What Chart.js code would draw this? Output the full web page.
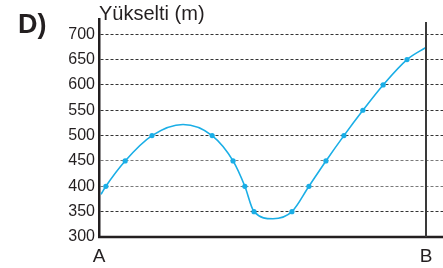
<!DOCTYPE html>
<html>
<head>
<meta charset="utf-8">
<script src="https://cdn.jsdelivr.net/npm/chart.js@4"></script>
<style>
  html, body { margin: 0; padding: 0; background: #fff; }
  #wrap { width: 443px; height: 268px; }
</style>
</head>
<body>
<div id="wrap"><canvas id="profile" width="443" height="268"></canvas></div>
<script>
// Profil d'altitude entre A et B
const distance = [0.6, 2.1, 8.0, 16.2, 25.7, 34.6, 41.0, 44.6, 47.4, 53.2, 59.0, 64.2, 69.4, 74.9, 80.7, 86.9, 94.2, 100];
const elevation = [384, 400, 450, 500, 522, 500, 450, 400, 350, 336, 350, 400, 450, 500, 550, 600, 650, 674];
const yTicks = [300, 350, 400, 450, 500, 550, 600, 650, 700];
const xTicks = [0, 100];
const xLabels = ["A", "B"];

const ink = "#231f20";
const curveColor = "#1aaee6";
const font = "'Liberation Sans', Arial, sans-serif";

// texte "D)", titre de l'axe, ligne B et axe x plein
const decorPlugin = {
  id: "decor",
  afterDraw(chart) {
    const ctx = chart.ctx;
    const area = chart.chartArea;
    const x = chart.scales.x;
    ctx.save();
    // axe horizontal plein
    ctx.strokeStyle = ink;
    ctx.lineWidth = 2.5;
    ctx.beginPath();
    ctx.moveTo(area.left - 1, area.bottom);
    ctx.lineTo(area.right, area.bottom);
    ctx.stroke();
    // ligne verticale en B
    const bx = x.getPixelForValue(100);
    ctx.strokeStyle = "#3a3a3a";
    ctx.lineWidth = 2;
    ctx.beginPath();
    ctx.moveTo(bx, area.top + 3);
    ctx.lineTo(bx, area.bottom);
    ctx.stroke();
    // textes
    ctx.fillStyle = ink;
    ctx.textBaseline = "alphabetic";
    ctx.font = "bold 27px " + font;
    ctx.fillText("D)", 18, 33);
    ctx.font = "20px " + font;
    ctx.fillText("Yükselti (m)", 99, 20);
    ctx.restore();
  }
};

const ctx = document.getElementById("profile").getContext("2d");
new Chart(ctx, {
  type: "line",
  data: {
    datasets: [{
      data: distance.map((d, i) => ({ x: d, y: elevation[i] })),
      borderColor: curveColor,
      backgroundColor: curveColor,
      borderWidth: 1.6,
      cubicInterpolationMode: "monotone",
      pointRadius: c => (c.raw && c.raw.y % 50 === 0 ? 2.6 : 0),
      pointBorderWidth: 0
    }]
  },
  options: {
    responsive: false,
    animation: false,
    layout: { padding: { top: 19, right: 0, left: 0, bottom: 0 } },
    plugins: {
      legend: { display: false },
      tooltip: { enabled: false }
    },
    scales: {
      x: {
        type: "linear",
        min: 0,
        max: 105.2,
        afterBuildTicks: s => { s.ticks = xTicks.map(v => ({ value: v })); },
        afterFit: s => { s.height = 31; },
        grid: { display: false },
        border: { display: false },
        ticks: {
          callback: (v) => xLabels[xTicks.indexOf(v)],
          color: ink,
          font: { family: font, size: 19 },
          padding: 0,
          maxRotation: 0,
          autoSkip: false
        }
      },
      y: {
        min: 300,
        max: 730,
        afterBuildTicks: s => { s.ticks = yTicks.map(v => ({ value: v })); },
        afterFit: s => { s.width = 99; },
        grid: {
          drawTicks: false,
          lineWidth: 1,
          color: c => (c.tick && (c.tick.value === 400 || c.tick.value === 450) ? "#7a7a7a" : "#333")
        },
        border: { display: true, color: ink, width: 2.5, dash: [3, 2] },
        ticks: {
          color: ink,
          font: { family: font, size: 16 },
          padding: 4
        }
      }
    }
  },
  plugins: [decorPlugin]
});
</script>
</body>
</html>
